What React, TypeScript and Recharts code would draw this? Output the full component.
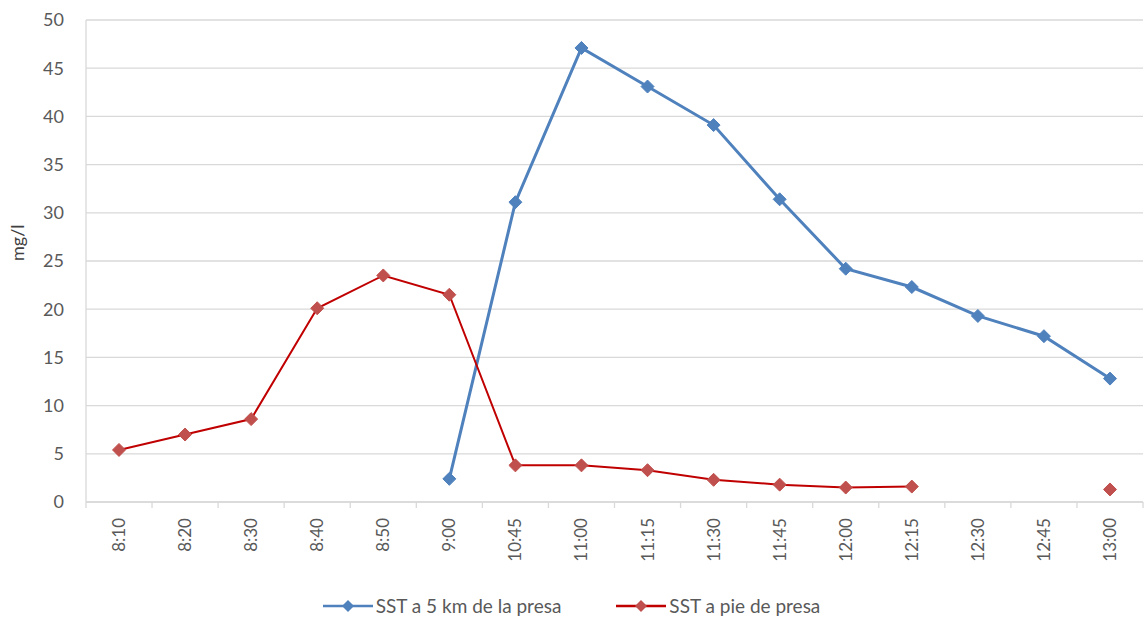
import { LineChart, Line, XAxis, YAxis, CartesianGrid, Legend } from 'recharts';

const horas = ['8:10', '8:20', '8:30', '8:40', '8:50', '9:00', '10:45', '11:00', '11:15', '11:30', '11:45', '12:00', '12:15', '12:30', '12:45', '13:00'];
const sst5km = [null, null, null, null, null, 2.4, 31.1, 47.1, 43.1, 39.1, 31.4, 24.2, 22.3, 19.3, 17.2, 12.8];
const sstPie = [5.4, 7.0, 8.6, 20.1, 23.5, 21.5, 3.8, 3.8, 3.3, 2.3, 1.8, 1.5, 1.6, null, null, 1.3];
const yTicks = [0, 5, 10, 15, 20, 25, 30, 35, 40, 45, 50];

const data = horas.map((h, i) => ({ hora: h, a5km: sst5km[i], pie: sstPie[i] }));

const FONT = 'Lato, "Open Sans", sans-serif';
const GRAY = '#595959';
const GRID = '#d9d9d9';
const BLUE = '#4F81BD';
const RED_LINE = '#C00000';
const RED_MARK = '#C0504D';

const Diamond = (color: string) => (props: any) => {
  const { cx, cy, index } = props;
  if (cx == null || cy == null || props.value == null) return <g key={index} />;
  const r = 6.5;
  return (
    <path
      key={index}
      d={`M${cx},${cy - r} L${cx + r},${cy} L${cx},${cy + r} L${cx - r},${cy} Z`}
      fill={color}
      stroke={color}
    />
  );
};

const XTick = (props: any) => {
  const { x, y, payload, index, width } = props;
  const band = width / horas.length;
  return (
    <g>
      <line x1={x - band / 2} x2={x - band / 2} y1={y - 8} y2={y - 2} stroke={GRID} strokeWidth={1.3} />
      {index === horas.length - 1 && (
        <line x1={x + band / 2} x2={x + band / 2} y1={y - 8} y2={y - 2} stroke={GRID} strokeWidth={1.3} />
      )}
      <text
        x={x}
        y={y + 8}
        transform={`rotate(-90, ${x}, ${y + 8})`}
        textAnchor="end"
        dy={6}
        fill={GRAY}
        fontSize={17}
        fontFamily={FONT}
      >
        {payload.value}
      </text>
    </g>
  );
};

const LegendContent = () => {
  const items = [
    { label: 'SST a 5 km de la presa', line: BLUE, mark: BLUE },
    { label: 'SST a pie de presa', line: RED_LINE, mark: RED_MARK },
  ];
  return (
    <div style={{ display: 'flex', justifyContent: 'center', gap: 55, fontFamily: FONT, fontSize: 19, color: GRAY }}>
      {items.map((it) => (
        <div key={it.label} style={{ display: 'flex', alignItems: 'center' }}>
          <svg width={50} height={14} style={{ marginRight: 3 }}>
            <line x1={0} x2={50} y1={7} y2={7} stroke={it.line} strokeWidth={2.5} />
            <path d="M25,1 L31,7 L25,13 L19,7 Z" fill={it.mark} />
          </svg>
          <span>{it.label}</span>
        </div>
      ))}
    </div>
  );
};

export default function App() {
  return (
    <div style={{ position: 'absolute', left: 0, top: 0, background: '#fff' }}>
      <LineChart width={1144} height={617} data={data} margin={{ top: 20, right: 1, left: 0, bottom: 0 }}>
        <CartesianGrid vertical={false} stroke={GRID} strokeWidth={1.3} />
        <XAxis
          dataKey="hora"
          interval={0}
          height={92}
          padding={{ left: 33, right: 33 }}
          tick={<XTick />}
          tickLine={false}
          axisLine={{ stroke: GRID, strokeWidth: 1.3 }}
        />
        <YAxis
          width={86}
          domain={[0, 50]}
          ticks={yTicks}
          tickLine={false}
          axisLine={{ stroke: GRID, strokeWidth: 1.3 }}
          tick={{ fill: GRAY, fontSize: 18, fontFamily: FONT }}
          tickMargin={16}
          label={{ value: 'mg/l', angle: -90, position: 'insideLeft', offset: 18, fill: '#404040', fontSize: 18, fontFamily: FONT }}
        />
        <Legend verticalAlign="bottom" height={23} content={<LegendContent />} />
        <Line
          type="linear"
          dataKey="a5km"
          name="SST a 5 km de la presa"
          stroke={BLUE}
          strokeWidth={3}
          dot={Diamond(BLUE)}
          activeDot={false}
          isAnimationActive={false}
        />
        <Line
          type="linear"
          dataKey="pie"
          name="SST a pie de presa"
          stroke={RED_LINE}
          strokeWidth={2}
          dot={Diamond(RED_MARK)}
          activeDot={false}
          isAnimationActive={false}
        />
      </LineChart>
    </div>
  );
}
